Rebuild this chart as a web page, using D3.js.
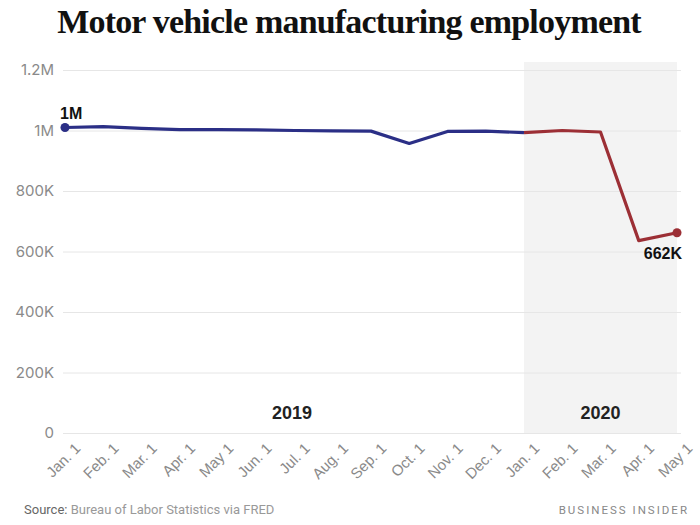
<!DOCTYPE html>
<html><head><meta charset="utf-8">
<script src="https://cdn.jsdelivr.net/npm/d3@7"></script>
<style>body{margin:0;background:#fff}svg{display:block}</style>
</head><body>
<script>
const months = ["Jan. 1","Feb. 1","Mar. 1","Apr. 1","May 1","Jun. 1","Jul. 1","Aug. 1","Sep. 1","Oct. 1","Nov. 1","Dec. 1","Jan. 1","Feb. 1","Mar. 1","Apr. 1","May 1"];
const values2019 = [1010000,1013000,1007000,1003000,1003000,1002000,1000000,999000,998000,957000,997000,998000,993000];
const values2020 = [993000,1000000,995000,636000,662000];
const yTicks = [0,200000,400000,600000,800000,1000000,1200000];
const yTickLabels = ["0","200K","400K","600K","800K","1M","1.2M"];

const W=700,H=525;
const svg=d3.select("body").append("svg").attr("width",W).attr("height",H);
const x=d3.scaleLinear().domain([0,16]).range([65,677]);
const y=d3.scaleLinear().domain([0,1200000]).range([433,70]);

svg.append("text").attr("x",349).attr("y",33).attr("text-anchor","middle")
  .attr("font-family","Liberation Serif, serif").attr("font-weight","bold")
  .attr("font-size",34).attr("letter-spacing",-0.8).attr("fill","#111")
  .text("Motor vehicle manufacturing employment");

// shade 2020
svg.append("rect").attr("x",x(12)).attr("y",y(1200000)-8).attr("width",x(16)-x(12)).attr("height",y(0)-y(1200000)+8).attr("fill","#f3f3f3");

// grid
const yAxis=d3.axisLeft(y).tickValues(yTicks).tickFormat((d,i)=>yTickLabels[i]).tickSize(-(x(16)-x(0)+6)).tickPadding(9);
const gy=svg.append("g").attr("transform",`translate(${x(0)-2},0)`).call(yAxis);
gy.select(".domain").remove();
gy.selectAll("line").attr("stroke","#e6e6e6");
gy.selectAll("text").attr("font-family","Inter, Roboto, sans-serif").attr("font-size",15).attr("fill","#8a8a8a");

const xAxis=d3.axisBottom(x).tickValues(d3.range(17)).tickFormat(i=>months[i]).tickSize(0);
const gx=svg.append("g").attr("transform",`translate(0,${y(0)+9})`).call(xAxis);
gx.select(".domain").remove();
gx.selectAll("text").attr("font-family","Liberation Sans, Arial, sans-serif").attr("font-size",15).attr("fill","#8a8a8a")
  .attr("text-anchor","end").attr("dy","0.9em").attr("dx","0.4em").attr("transform","rotate(-45)");

const line=d3.line().x(d=>x(d.i)).y(d=>y(d.v));
const d19=values2019.map((v,i)=>({i,v}));
const d20=values2020.map((v,i)=>({i:i+12,v}));
svg.append("path").datum(d19).attr("d",line).attr("fill","none").attr("stroke","#2b2f86").attr("stroke-width",3.2).attr("stroke-linejoin","round");
svg.append("path").datum(d20).attr("d",line).attr("fill","none").attr("stroke","#9c2f35").attr("stroke-width",3.2).attr("stroke-linejoin","round");
svg.append("circle").attr("cx",x(0)).attr("cy",y(values2019[0])).attr("r",4.5).attr("fill","#2b2f86");
svg.append("circle").attr("cx",x(16)).attr("cy",y(values2020[4])).attr("r",4.5).attr("fill","#9c2f35");

svg.append("text").attr("x",x(0)-5).attr("y",y(values2019[0])-8).attr("font-family","Liberation Sans, Arial, sans-serif").attr("font-weight","bold").attr("font-size",16).attr("fill","#111").text("1M");
svg.append("text").attr("x",x(16)+5).attr("y",y(values2020[4])+26).attr("text-anchor","end").attr("font-family","Liberation Sans, Arial, sans-serif").attr("font-weight","bold").attr("font-size",16).attr("fill","#111").text("662K");

svg.append("text").attr("x",292).attr("y",419).attr("text-anchor","middle").attr("font-family","Liberation Sans, Arial, sans-serif").attr("font-weight","bold").attr("font-size",18).attr("fill","#222").text("2019");
svg.append("text").attr("x",x(14)).attr("y",419).attr("text-anchor","middle").attr("font-family","Liberation Sans, Arial, sans-serif").attr("font-weight","bold").attr("font-size",18).attr("fill","#222").text("2020");

const src=svg.append("text").attr("x",24).attr("y",514).attr("font-family","Roboto, sans-serif").attr("font-size",13).attr("fill","#999");
src.append("tspan").attr("fill","#666").text("Source:");
src.append("tspan").text(" Bureau of Labor Statistics via FRED");
svg.append("text").attr("x",689).attr("y",514).attr("text-anchor","end").attr("font-family","Roboto, sans-serif").attr("font-size",11.5).attr("letter-spacing",2).attr("fill","#888").text("BUSINESS INSIDER");
</script>
</body></html>
